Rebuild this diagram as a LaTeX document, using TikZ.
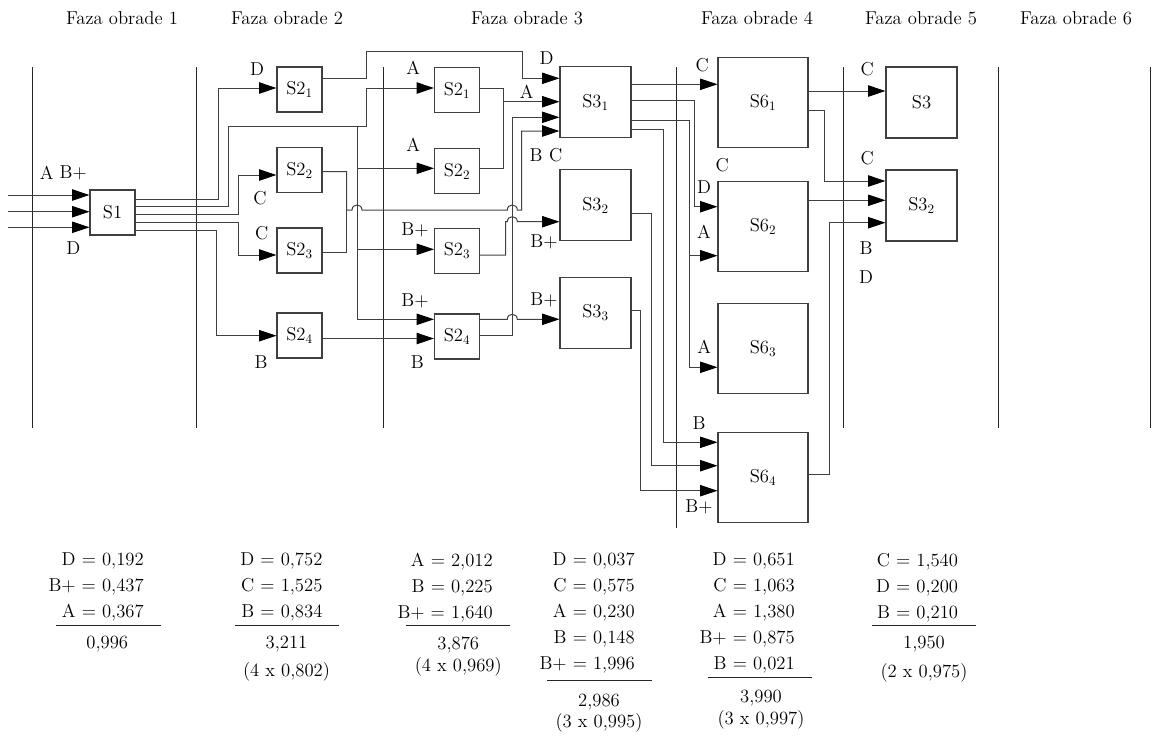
\documentclass[tikz,border=0pt]{standalone}
\usetikzlibrary{arrows.meta}

\begin{document}
\begin{tikzpicture}[
    x=0.75pt,
    y=-0.75pt,
    every node/.style={
        font=\fontsize{14}{17}\selectfont
    },
    stage/.style={
        draw=black!75,
        line width=0.8pt,
        inner sep=0pt
    },
    smallbox/.style={
        stage,
        minimum width=33.75pt,
        minimum height=33.75pt
    },
    midbox/.style={
        stage,
        minimum width=53.25pt,
        minimum height=53.25pt
    },
    bigbox/.style={
        stage,
        minimum width=67.5pt,
        minimum height=67.5pt
    },
    lab/.style={
        inner sep=0pt
    },
    wire/.style={
        draw=black!75,
        line width=0.75pt
    },
    feed/.style={
        wire,
        -{Triangle[length=13pt,width=8.5pt,color=black]}
    },
    sep/.style={
        draw=black!85,
        line width=0.6pt
    },
    eqs/.style={
        inner sep=0pt,
        align=right,
        anchor=north east,
        font=\fontsize{14}{19.5}\selectfont
    }
]

    \useasboundingbox (0,0) rectangle (1153,740);

    % phase headers
    \node (h1) at (122,18) {Faza obrade 1};
    \node (h2) at (287,18) {Faza obrade 2};
    \node (h3) at (527,18) {Faza obrade 3};
    \node (h4) at (757,18) {Faza obrade 4};
    \node (h5) at (921,18) {Faza obrade 5};
    \node (h6) at (1076,18) {Faza obrade 6};

    % phase borders
    \draw[sep] (32,67) -- (32,428);
    \draw[sep] (196,67) -- (196,428);
    \draw[sep] (383,67) -- (383,428);
    \draw[sep] (676,67) -- (676,528);
    \draw[sep] (843.5,67) -- (843.5,428);
    \draw[sep] (998,67) -- (998,428);
    \draw[sep] (1150,67) -- (1150,428);

    % stations
    \node[smallbox] (s1) at (112.5,212.5) {S1};

    \node[smallbox] (s21) at (299.5,89.5) {S2\textsubscript{1}};
    \node[smallbox] (s22) at (299.5,170) {S2\textsubscript{2}};
    \node[smallbox] (s23) at (299.5,250.5) {S2\textsubscript{3}};
    \node[smallbox] (s24) at (299.5,335.5) {S2\textsubscript{4}};

    \node[smallbox] (t21) at (457,90) {S2\textsubscript{1}};
    \node[smallbox] (t22) at (457,171) {S2\textsubscript{2}};
    \node[smallbox] (t23) at (457,251) {S2\textsubscript{3}};
    \node[smallbox] (t24) at (457,336.5) {S2\textsubscript{4}};

    \node[midbox] (s31) at (595.5,102.3) {S3\textsubscript{1}};
    \node[midbox] (s32) at (595.5,205.3) {S3\textsubscript{2}};
    \node[midbox] (s33) at (595.5,313) {S3\textsubscript{3}};

    \node[bigbox] (s61) at (763,102.3) {S6\textsubscript{1}};
    \node[bigbox] (s62) at (763,226.3) {S6\textsubscript{2}};
    \node[bigbox] (s63) at (763,348.3) {S6\textsubscript{3}};
    \node[bigbox] (s64) at (763,477.5) {S6\textsubscript{4}};

    \node[midbox] (f3) at (921.5,102.5) {S3};
    \node[midbox] (f32) at (921.5,205.5) {S3\textsubscript{2}};

    % inputs of S1
    \coordinate (in1) at (8,195);
    \coordinate (in2) at (8,211.7);
    \coordinate (in3) at (8,227.3);
    \draw[feed] (in1) -- (in1 -| s1.west);
    \draw[feed] (in2) -- (in2 -| s1.west);
    \draw[feed] (in3) -- (in3 -| s1.west);

    % S1 to phase 2
    \draw[feed] (s1.east |- 0,199) -| (218,88) -- (s21.west |- 0,88);
    \draw[feed] (s1.east |- 0,214) -| (238,175) -- (s22.west |- 0,175);
    \draw[feed] (s1.east |- 0,222.7) -| (238,255) -- (s23.west |- 0,255);
    \draw[feed] (s1.east |- 0,230) -| (216,335.7) -- (s24.west |- 0,335.7);
    \draw[feed] (s1.east |- 0,206) -| (228,126.7) -| (366.7,88) -- (t21.west |- 0,88);

    % bus to phase 3
    \coordinate (bus) at (357,126.7);
    \draw[feed] (bus) |- (t24.west |- 0,319.3);
    \draw[feed] (bus |- 0,168.3) -- (t22.west |- 0,168.3);
    \draw[feed] (bus |- 0,249.3) -- (t23.west |- 0,249.3);

    % phase 2 outputs
    \draw[feed] (s21.east |- 0,78.3) -| (366.7,51.7) -| (522.7,78.3) -- (s31.west |- 0,78.3);
    \draw[wire] (s23.east |- 0,252.3) -| (346.7,210);
    \draw[feed] (s22.east |- 0,171.7) -| (346.7,210)
        -- (352,210) .. controls (352,203.3) and (362,203.3) .. (362,210)
        -- (507.3,210) .. controls (507.3,203.3) and (517.3,203.3) .. (517.3,210)
        -| (521.7,131) -- (s31.west |- 0,131);
    \draw[feed] (s24.east |- 0,338.5) -- (t24.west |- 0,338.5);

    % phase 3 outputs
    \draw[wire] (t22.east |- 0,168.3) -| (503.3,101.7);
    \draw[feed] (t21.east |- 0,88.3) -| (503.3,101.7) -- (s31.west |- 0,101.7);
    \draw[feed] (t23.east |- 0,255) -| (505.7,221.7)
        -- (507.3,221.7) .. controls (507.3,215) and (517.3,215) .. (517.3,221.7)
        -- (s32.west |- 0,221.7);
    \draw[feed] (t24.east |- 0,319.3)
        -- (507.3,319.3) .. controls (507.3,312.6) and (517.3,312.6) .. (517.3,319.3)
        -- (s33.west |- 0,319.3);
    \draw[feed] (t24.east |- 0,335.7) -| (512.3,117.3) -- (s31.west |- 0,117.3);

    % phase 3 to phase 4
    \draw[feed] (s31.east |- 0,84.3) -- (s61.west |- 0,84.3);
    \draw[feed] (s31.east |- 0,100.7) -| (694.3,206.7) -- (s62.west |- 0,206.7);
    \draw[feed] (s31.east |- 0,120) -| (689.3,367.3) -- (s63.west |- 0,367.3);
    \draw[feed] (689.3,255.7) -- (s62.west |- 0,255.7);
    \draw[feed] (s31.east |- 0,129.3) -| (663.3,442.3) -- (s64.west |- 0,442.3);
    \draw[feed] (s32.east |- 0,213.3) -| (651.7,465.7) -- (s64.west |- 0,465.7);
    \draw[feed] (s33.east |- 0,310) -| (640.7,490.7) -- (s64.west |- 0,490.7);

    % phase 4 to phase 5
    \draw[feed] (s61.east |- 0,91) -- (f3.west |- 0,91);
    \draw[feed] (s61.east |- 0,110) -| (824.3,181) -- (f32.west |- 0,181);
    \draw[feed] (s62.east |- 0,200.3) -- (f32.west |- 0,200.3);
    \draw[feed] (s64.east |- 0,474) -| (829.3,222.7) -- (f32.west |- 0,222.7);

    % flow labels
    \node[lab] (l1a) at (46.7,173.3) {A};
    \node[lab] (l1b) at (73.3,173.3) {B+};
    \node[lab] (l1c) at (73.3,248.3) {D};

    \node[lab] (l2a) at (257,69.3) {D};
    \node[lab] (l2b) at (260,198.3) {C};
    \node[lab] (l2c) at (261.7,233.3) {C};
    \node[lab] (l2d) at (261,361.7) {B};

    \node[lab] (l3a) at (413.3,68.3) {A};
    \node[lab] (l3b) at (413.3,145) {A};
    \node[lab] (l3c) at (415,230) {B+};
    \node[lab] (l3d) at (415,300.7) {B+};
    \node[lab] (l3e) at (417.3,361.7) {B};

    \node[lab] (l4a) at (546.7,58.3) {D};
    \node[lab] (l4b) at (526.7,91.7) {A};
    \node[lab] (l4c) at (536,155) {B};
    \node[lab] (l4d) at (555.7,155) {C};
    \node[lab] (l4e) at (544,241.7) {B+};
    \node[lab] (l4f) at (544,300) {B+};

    \node[lab] (l5a) at (702.3,65) {C};
    \node[lab] (l5b) at (722.3,165) {C};
    \node[lab] (l5c) at (704,187.3) {D};
    \node[lab] (l5d) at (704,231.7) {A};
    \node[lab] (l5e) at (704.3,347.3) {A};
    \node[lab] (l5f) at (699,422.7) {B};
    \node[lab] (l5g) at (699,507.3) {B+};

    \node[lab] (l6a) at (867.3,69.3) {C};
    \node[lab] (l6b) at (867.3,157.7) {C};
    \node[lab] (l6c) at (866,248.3) {B};
    \node[lab] (l6d) at (866,276.7) {D};

    % sums per phase
    \node[eqs] (c1) at (144,552.6) {D = 0,192\\B+ = 0,437\\A = 0,367};
    \draw[sep] (56,625.7) -- (160.7,625.7);
    \node (r1) at (107.3,644) {0,996};

    \node[eqs] (c2) at (322.7,552.6) {D = 0,752\\C = 1,525\\B = 0,834};
    \draw[sep] (235,625.7) -- (339.3,625.7);
    \node (r2) at (286.5,644) {3,211};
    \node (m2) at (286.5,672) {(4 x 0,802)};

    \node[eqs] (c3) at (493,552.6) {A = 2,012\\B = 0,225\\B+ = 1,640};
    \draw[sep] (406,625.7) -- (510,625.7);
    \node (r3) at (458.3,645) {3,876};
    \node (m3) at (458.3,667) {(4 x 0,969)};

    \node[eqs] (c4) at (635,552.6) {D = 0,037\\C = 0,575\\A = 0,230\\B = 0,148\\B+ = 1,996};
    \draw[sep] (547.3,680) -- (651.7,680);
    \node (r4) at (599,701.7) {2,986};
    \node (m4) at (599,723.3) {(3 x 0,995)};

    \node[eqs] (c5) at (795,552.6) {D = 0,651\\C = 1,063\\A = 1,380\\B+ = 0,875\\B = 0,021};
    \draw[sep] (708.3,677.3) -- (811.7,677.3);
    \node (r5) at (761,698.3) {3,990};
    \node (m5) at (761,720) {(3 x 0,997)};

    \node[eqs] (c6) at (958.3,552.6) {C = 1,540\\D = 0,200\\B = 0,210};
    \draw[sep] (871.7,625.7) -- (976,625.7);
    \node (r6) at (924,644) {1,950};
    \node (m6) at (924,673) {(2 x 0,975)};

\end{tikzpicture}
\end{document}
